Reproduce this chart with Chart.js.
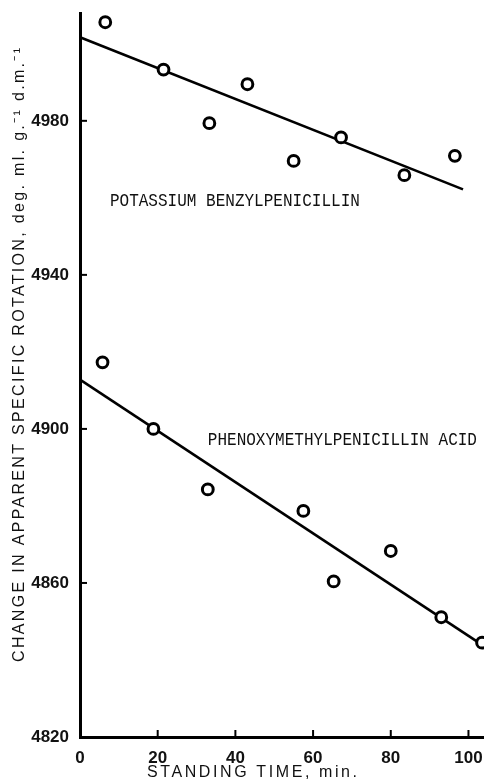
<!DOCTYPE html>
<html>
<head>
<meta charset="utf-8">
<script src="https://cdn.jsdelivr.net/npm/chart.js@4"></script>
<style>
  html, body { margin: 0; padding: 0; background: #fff; overflow: hidden; }
  #wrap { width: 484px; height: 784px; position: relative; }
  canvas { display: block; }
</style>
</head>
<body>
<div id="wrap"><canvas id="myChart"></canvas></div>
<script>
// standing time (min) and apparent specific rotation readings
const timeBenzyl = [6.5, 21.5, 33.3, 43.1, 55.0, 67.2, 83.5, 96.5];
const rotBenzyl = [5005.6, 4993.3, 4979.4, 4989.5, 4969.6, 4975.7, 4965.9, 4970.9];
const timePhenoxy = [5.8, 18.9, 32.9, 57.5, 65.3, 80.0, 93.0, 103.5];
const rotPhenoxy = [4917.3, 4900.0, 4884.3, 4878.7, 4860.4, 4868.3, 4851.1, 4844.5];

// fitted straight lines (end points)
const fitBenzylTime = [0, 98.6];
const fitBenzylRot = [5001.7, 4962.2];
const fitPhenoxyTime = [0, 104];
const fitPhenoxyRot = [4912.8, 4843.6];

const xTicks = [0, 20, 40, 60, 80, 100];
const yTicks = [4820, 4860, 4900, 4940, 4980];

// curve names, placed in data units
const seriesLabels = [
  { text: 'POTASSIUM BENZYLPENICILLIN', x: 7.7, y: 4959.1 },
  { text: 'PHENOXYMETHYLPENICILLIN ACID', x: 32.9, y: 4897.1 }
];

const xTitle = 'STANDING TIME, min.';
const yTitle = 'CHANGE IN APPARENT SPECIFIC ROTATION, deg. ml. g.\u207B\u00B9 d.m.\u207B\u00B9';

const pairs = (xs, ys) => xs.map((x, i) => ({ x: x, y: ys[i] }));

const tickFont = { family: "'Liberation Sans', Arial, sans-serif", size: 17, weight: 'bold' };

// spread the letters of a title over a given length
function spacedText(ctx, text, cx, cy, length) {
  ctx.letterSpacing = '0px';
  const w = ctx.measureText(text).width;
  const gap = Math.max(0, (length - w) / (text.length - 1));
  ctx.letterSpacing = gap + 'px';
  ctx.textAlign = 'left';
  ctx.fillText(text, cx - length / 2, cy);
}

// inward ticks, curve names and axis titles
const extras = {
  id: 'extras',
  afterDraw(chart) {
    const { ctx, scales: { x, y }, chartArea } = chart;
    ctx.save();
    ctx.strokeStyle = '#000';
    ctx.lineWidth = 2;
    xTicks.slice(1).forEach(v => {
      const px = x.getPixelForValue(v);
      ctx.beginPath();
      ctx.moveTo(px, chartArea.bottom);
      ctx.lineTo(px, chartArea.bottom - 7);
      ctx.stroke();
    });
    yTicks.slice(1).forEach(v => {
      const py = y.getPixelForValue(v);
      ctx.beginPath();
      ctx.moveTo(chartArea.left, py);
      ctx.lineTo(chartArea.left + 7, py);
      ctx.stroke();
    });

    ctx.fillStyle = '#111';
    ctx.textBaseline = 'middle';
    ctx.textAlign = 'left';
    seriesLabels.forEach(l => {
      ctx.save();
      ctx.translate(x.getPixelForValue(l.x), y.getPixelForValue(l.y));
      ctx.scale(0.89, 1);
      ctx.font = "18px 'Liberation Mono', 'DejaVu Sans Mono', monospace";
      ctx.fillText(l.text, 0, 0);
      ctx.restore();
    });

    ctx.font = "16px 'Liberation Sans', Arial, sans-serif";
    spacedText(ctx, xTitle, 252, 773, 210);

    ctx.save();
    ctx.translate(20, 355);
    ctx.rotate(-Math.PI / 2);
    ctx.font = "16px 'Liberation Sans', Arial, sans-serif";
    spacedText(ctx, yTitle, 0, 0, 614);
    ctx.restore();
    ctx.restore();
  }
};

document.addEventListener('DOMContentLoaded', () => {
  const ctx = document.getElementById('myChart').getContext('2d');
  const pointStyle = {
    pointRadius: 5.4,
    pointBorderWidth: 3,
    pointBorderColor: '#000',
    pointBackgroundColor: '#fff',
    showLine: false
  };
  new Chart(ctx, {
    type: 'scatter',
    data: {
      datasets: [
        Object.assign({ data: pairs(timeBenzyl, rotBenzyl) }, pointStyle),
        Object.assign({ data: pairs(timePhenoxy, rotPhenoxy) }, pointStyle),
        {
          type: 'line',
          data: pairs(fitBenzylTime, fitBenzylRot),
          borderColor: '#000',
          borderWidth: 2.5,
          pointRadius: 0
        },
        {
          type: 'line',
          data: pairs(fitPhenoxyTime, fitPhenoxyRot),
          borderColor: '#000',
          borderWidth: 2.5,
          pointRadius: 0
        }
      ]
    },
    options: {
      responsive: true,
      maintainAspectRatio: false,
      animation: false,
      clip: false,
      layout: { autoPadding: false, padding: { top: 13, right: 0, left: 0, bottom: 0 } },
      plugins: { legend: { display: false }, tooltip: { enabled: false } },
      scales: {
        x: {
          type: 'linear',
          min: 0,
          max: 104,
          afterBuildTicks: s => { s.ticks = xTicks.map(v => ({ value: v })); },
          afterFit: s => { s.height = 47; s.paddingLeft = 0; s.paddingRight = 0; },
          grid: { display: false },
          border: { display: true, color: '#000', width: 3 },
          ticks: { color: '#111', padding: 3, maxRotation: 0, font: tickFont, callback: v => String(v) }
        },
        y: {
          min: 4820,
          max: 5008,
          afterBuildTicks: s => { s.ticks = yTicks.map(v => ({ value: v })); },
          afterFit: s => { s.width = 80; s.paddingTop = 0; s.paddingBottom = 0; },
          grid: { display: false },
          border: { display: true, color: '#000', width: 3 },
          ticks: { color: '#111', padding: 3, font: tickFont, callback: v => String(v) }
        }
      }
    },
    plugins: [extras]
  });
});
</script>
</body>
</html>
